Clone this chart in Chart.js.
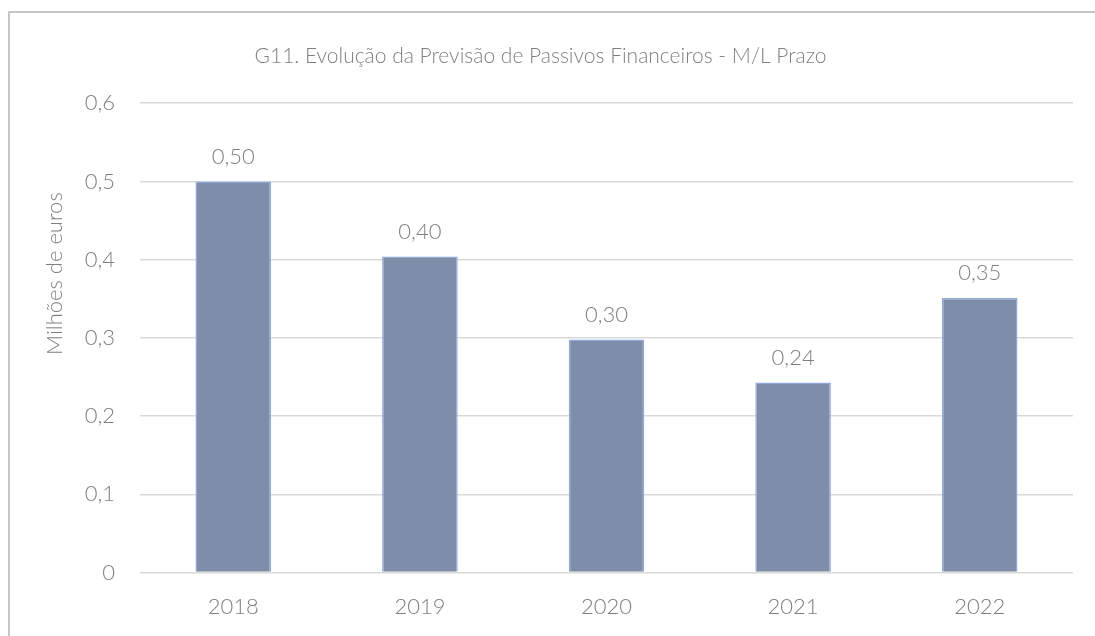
<!DOCTYPE html>
<html>
<head>
<meta charset="utf-8">
<script src="https://cdn.jsdelivr.net/npm/chart.js@4"></script>
<style>
  body { margin: 0; background: #fff; }
  #frame { position: absolute; left: 8px; top: 11px; width: 2000px; height: 2000px;
           border-left: 2px solid #c6c6c6; border-top: 2px solid #c6c6c6; }
  #wrap { position: absolute; left: 0; top: 0; width: 1095px; height: 636px; }
</style>
</head>
<body>
<div id="frame"></div>
<div id="wrap"><canvas id="chart1"></canvas></div>
<script>
var years = ["2018", "2019", "2020", "2021", "2022"]
var passivos = [0.50, 0.404, 0.298, 0.243, 0.351]
var y_ticks_max = 0.6
var y_step = 0.1

var font_family = "Lato, 'Open Sans', sans-serif"
var grey = "#7f7f7f"

function fmt(v, digits){
    if (v == 0) return "0"
    return v.toFixed(digits).replace(".", ",")
}

// labels over the bars
var bar_labels = {
    id: "bar_labels",
    afterDatasetsDraw: function(chart){
        var ctx = chart.ctx
        var meta = chart.getDatasetMeta(0)
        ctx.save()
        ctx.font = "300 22px " + font_family
        ctx.fillStyle = grey
        ctx.textAlign = "center"
        ctx.textBaseline = "middle"
        meta.data.forEach(function(bar, i){
            ctx.fillText(fmt(passivos[i], 2), bar.x, bar.y - 25)
        })
        ctx.restore()
    }
}

// y axis title, placed like the excel original (a bit above the middle)
var y_title = {
    id: "y_title",
    afterDraw: function(chart){
        var ctx = chart.ctx
        var area = chart.chartArea
        ctx.save()
        ctx.translate(55, area.top + (area.bottom - area.top) * 0.363)
        ctx.rotate(-Math.PI / 2)
        ctx.font = "300 22px " + font_family
        ctx.fillStyle = grey
        ctx.textAlign = "center"
        ctx.textBaseline = "middle"
        ctx.fillText("Milhões de euros", 0, 0)
        ctx.restore()
    }
}

var ctx1 = document.getElementById("chart1")
const myChart = new Chart(ctx1, {
    type: "bar",
    data: {
        labels: years,
        datasets: [{
            data: passivos,
            backgroundColor: "#7f8ea8",
            borderColor: "#91a8da",
            borderWidth: 1.5,
            categoryPercentage: 1.0,
            barPercentage: 0.405
        }]
    },
    options: {
        responsive: true,
        maintainAspectRatio: false,
        animation: false,
        layout: { padding: { left: 8, right: 22, top: 0, bottom: 3 } },
        scales: {
            x: {
                grid: { display: false },
                border: { display: false },
                ticks: {
                    color: grey,
                    padding: 13,
                    font: { family: font_family, size: 22, weight: 300 }
                }
            },
            y: {
                min: 0,
                max: y_ticks_max,
                afterFit: function(scale){ scale.width = 132 },
                border: { display: false },
                grid: { color: "#d9d9d9", lineWidth: 1.5, drawTicks: false },
                ticks: {
                    stepSize: y_step,
                    color: grey,
                    padding: 25,
                    font: { family: font_family, size: 22, weight: 300 },
                    callback: function(v){ return fmt(v, 1) }
                }
            }
        },
        plugins: {
            legend: { display: false },
            tooltip: { enabled: false },
            title: {
                display: true,
                text: "G11. Evolução da Previsão de Passivos Financeiros - M/L Prazo",
                color: grey,
                font: { family: font_family, size: 21, weight: 300 },
                padding: { top: 44, bottom: 34 }
            }
        }
    },
    plugins: [bar_labels, y_title]
})
</script>
</body>
</html>
